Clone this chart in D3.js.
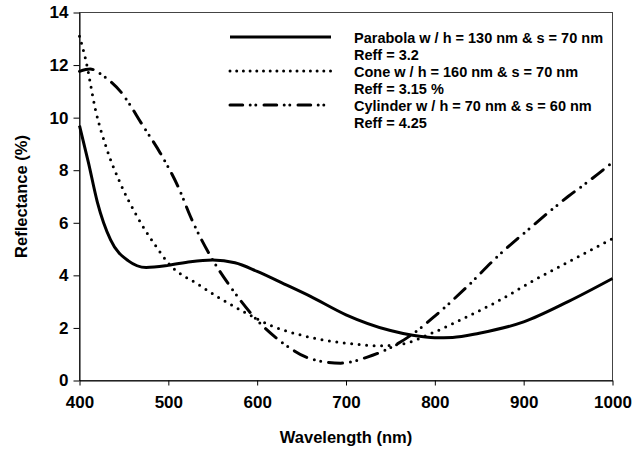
<!DOCTYPE html>
<html><head><meta charset="utf-8">
<script src="https://cdn.jsdelivr.net/npm/d3@7"></script>
<style>body{margin:0;background:#fff}svg{display:block}</style>
</head><body>
<script>
// ---- data ----
const xTicks = [400, 500, 600, 700, 800, 900, 1000];
const yTicks = [0, 2, 4, 6, 8, 10, 12, 14];

const parabolaX = [400,410,420,435,455,475,500,525,550,575,600,630,660,700,750,775,800,820,850,900,950,1000];
const parabolaY = [9.7,8.3,6.8,5.35,4.55,4.3,4.38,4.52,4.58,4.48,4.15,3.68,3.2,2.5,1.9,1.72,1.63,1.64,1.8,2.23,3.0,3.88];

const coneX = [400,407,418,431,446,465,484,502,532,559,585,615,650,700,740,762,800,836,870,911,950,1000];
const coneY = [13.1,12.2,10.3,8.78,7.5,6.23,5.21,4.39,3.69,3.11,2.61,2.1,1.72,1.42,1.32,1.38,1.85,2.42,3.0,3.8,4.5,5.4];

const cylinderX = [400,412,427,446,472,491,512,525,548,570,600,630,660,694,724,750,773,800,836,870,911,950,975,1000];
const cylinderY = [11.76,11.85,11.58,11.0,9.66,8.65,7.3,6.23,4.7,3.56,2.29,1.4,0.83,0.66,0.89,1.25,1.72,2.45,3.56,4.7,5.91,7.0,7.63,8.3];

const seriesNames = ["Parabola w / h = 130 nm & s = 70 nm", "Cone w / h = 160 nm & s = 70 nm", "Cylinder w / h = 70 nm & s = 60 nm"];
const reffLabels = ["Reff = 3.2", "Reff = 3.15 %", "Reff = 4.25"];
const xTitle = "Wavelength (nm)";
const yTitle = "Reflectance (%)";

// ---- drawing ----
const W = 639, H = 451;
const font = "'Liberation Sans', Arial, sans-serif";
const svg = d3.select("body").append("svg").attr("width", W).attr("height", H);

const x = d3.scaleLinear().domain([400, 1000]).range([79.5, 612.5]);
const y = d3.scaleLinear().domain([0, 14]).range([380.5, 12.5]);

// frame
svg.append("rect").attr("x", x(400)).attr("y", y(14)).attr("width", x(1000) - x(400)).attr("height", y(0) - y(14))
  .attr("fill", "none").attr("stroke", "#444").attr("stroke-width", 1);

const gx = svg.append("g").attr("transform", `translate(0,${y(0)})`)
  .call(d3.axisBottom(x).tickValues(xTicks).tickSize(5).tickSizeOuter(0).tickPadding(10).tickFormat(d3.format("d")));
const gy = svg.append("g").attr("transform", `translate(${x(400)},0)`)
  .call(d3.axisLeft(y).tickValues(yTicks).tickSize(6).tickSizeOuter(0).tickPadding(5).tickFormat(d3.format("d")));
[gx, gy].forEach(g => {
  g.selectAll("path.domain").attr("stroke", "#000");
  g.selectAll(".tick line").attr("stroke", "#000");
  g.selectAll(".tick text").attr("font-family", font).attr("font-weight", "bold").attr("font-size", 17).attr("fill", "#000");
});

svg.append("text").attr("x", (x(400) + x(1000)) / 2).attr("y", 443).attr("text-anchor", "middle")
  .attr("font-family", font).attr("font-weight", "bold").attr("font-size", 16.5).text(xTitle);
svg.append("text").attr("transform", `translate(27,${(y(0) + y(14)) / 2}) rotate(-90)`).attr("text-anchor", "middle")
  .attr("font-family", font).attr("font-weight", "bold").attr("font-size", 16.5).text(yTitle);

const styles = [
  {dash: null, plotDash: null, cap: "butt", w: 3},
  {dash: "0 6.7", plotDash: "0 7.5", cap: "round", w: 3},
  {dash: "12.7 7.5 0 5.6 0 8.2", plotDash: "14 8 0 6.5 0 8", cap: "round", w: 3}
];
const data = [
  parabolaX.map((v, i) => [v, parabolaY[i]]),
  coneX.map((v, i) => [v, coneY[i]]),
  cylinderX.map((v, i) => [v, cylinderY[i]])
];
const line = d3.line().x(d => x(d[0])).y(d => y(d[1])).curve(d3.curveMonotoneX);

data.forEach((d, i) => {
  svg.append("path").attr("d", line(d)).attr("fill", "none").attr("stroke", "#000")
    .attr("stroke-width", styles[i].w).attr("stroke-linecap", styles[i].cap)
    .attr("stroke-dasharray", styles[i].plotDash);
});

// legend
const legY = [37, 71, 105];
seriesNames.forEach((name, i) => {
  svg.append("line").attr("x1", 230).attr("x2", 331).attr("y1", legY[i]).attr("y2", legY[i])
    .attr("stroke", "#000").attr("stroke-width", styles[i].w).attr("stroke-linecap", styles[i].cap)
    .attr("stroke-dasharray", styles[i].dash);
  svg.append("text").attr("x", 354).attr("y", legY[i] + 6).attr("font-family", font).attr("font-weight", "bold")
    .attr("font-size", 14.5).text(name);
  svg.append("text").attr("x", 354).attr("y", legY[i] + 6 + 17).attr("font-family", font).attr("font-weight", "bold")
    .attr("font-size", 14.5).text(reffLabels[i]);
});
</script>
</body></html>
